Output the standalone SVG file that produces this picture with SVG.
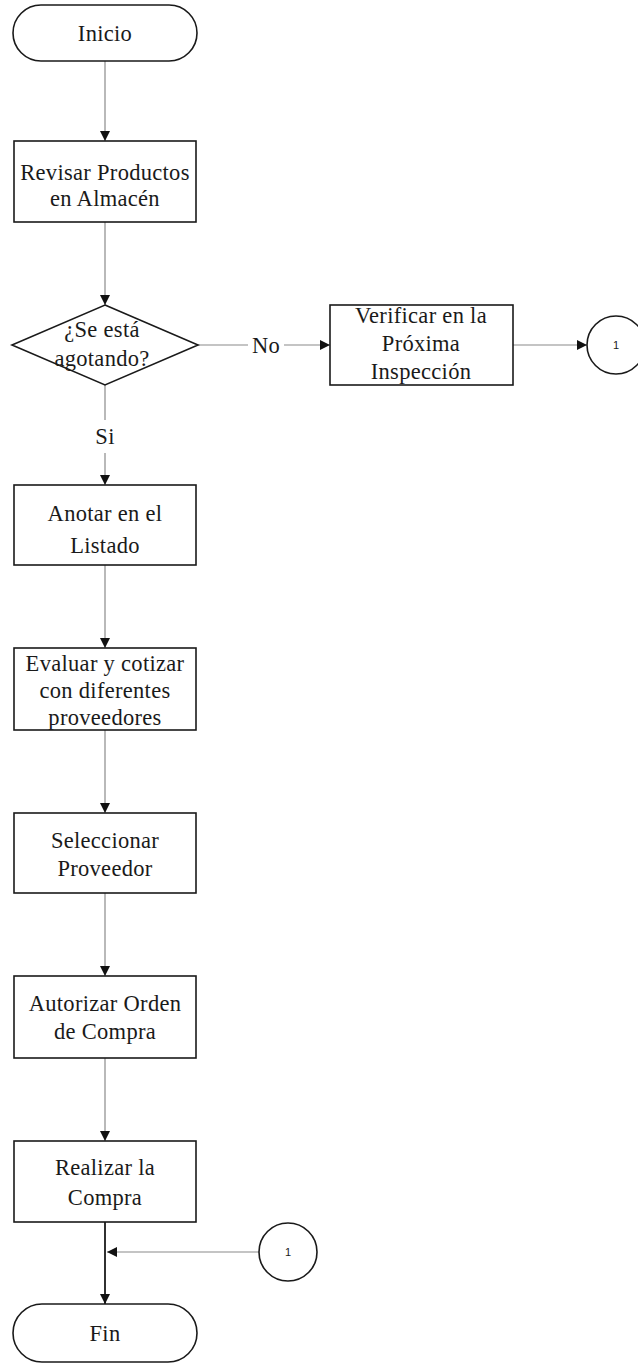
<svg xmlns="http://www.w3.org/2000/svg" width="638" height="1370" viewBox="0 0 638 1370">
  <style>
    .shape { fill: #ffffff; stroke: #1a1a1a; stroke-width: 1.6; }
    .lbl { font-family: "Liberation Serif", "Times New Roman", serif; font-size: 22.5px; letter-spacing: 0.3px; fill: #1a1a1a; text-anchor: middle; }
    .small { font-family: "Liberation Sans", Arial, sans-serif; font-size: 11px; fill: #1a1a1a; text-anchor: middle; }
    .flow { fill: none; stroke: #8a8a8a; stroke-width: 1.2; }
    .flow-dark { fill: none; stroke: #1a1a1a; stroke-width: 1.8; }
  </style>
  <defs>
    <marker id="arrow" viewBox="0 0 10 10" refX="10" refY="5" markerWidth="10" markerHeight="10" markerUnits="userSpaceOnUse" orient="auto">
      <path d="M0,0 L10,5 L0,10 z" fill="#111"/>
    </marker>
  </defs>
  <rect width="638" height="1370" fill="#ffffff"/>

  <!-- connectors -->
  <g id="connectors">
    <line class="flow" x1="105" y1="61" x2="105" y2="141" marker-end="url(#arrow)"/>
    <line class="flow" x1="105" y1="222" x2="105" y2="305" marker-end="url(#arrow)"/>
    <line class="flow" x1="198" y1="345" x2="248" y2="345"/>
    <line class="flow" x1="284" y1="345" x2="330" y2="345" marker-end="url(#arrow)"/>
    <text class="lbl" x="266" y="353">No</text>
    <line class="flow" x1="513" y1="345" x2="587" y2="345" marker-end="url(#arrow)"/>
    <line class="flow" x1="105" y1="385" x2="105" y2="420"/>
    <text class="lbl" x="105" y="444">Si</text>
    <line class="flow" x1="105" y1="453" x2="105" y2="485" marker-end="url(#arrow)"/>
    <line class="flow" x1="105" y1="565" x2="105" y2="648" marker-end="url(#arrow)"/>
    <line class="flow" x1="105" y1="730" x2="105" y2="813" marker-end="url(#arrow)"/>
    <line class="flow" x1="105" y1="893" x2="105" y2="976" marker-end="url(#arrow)"/>
    <line class="flow" x1="105" y1="1058" x2="105" y2="1141" marker-end="url(#arrow)"/>
    <line class="flow-dark" x1="105" y1="1222" x2="105" y2="1304" marker-end="url(#arrow)"/>
    <line class="flow" x1="259" y1="1252" x2="107" y2="1252" marker-end="url(#arrow)"/>
  </g>

  <g id="inicio">
    <rect class="shape" x="13" y="5" width="184" height="56" rx="28" ry="28"/>
    <text class="lbl" x="105" y="41">Inicio</text>
  </g>

  <g id="revisar">
    <rect class="shape" x="14" y="141" width="182" height="81"/>
    <text class="lbl" x="105" y="180">Revisar Productos</text>
    <text class="lbl" x="105" y="206">en Almacén</text>
  </g>

  <g id="decision">
    <polygon class="shape" points="105,305 198,345 105,385 12,345"/>
    <text class="lbl" x="102" y="337">¿Se está</text>
    <text class="lbl" x="102" y="366">agotando?</text>
  </g>

  <g id="verificar">
    <rect class="shape" x="330" y="305" width="183" height="80"/>
    <text class="lbl" x="421" y="323">Verificar en la</text>
    <text class="lbl" x="421" y="351">Próxima</text>
    <text class="lbl" x="421" y="379">Inspección</text>
  </g>

  <g id="conector-salida">
    <circle class="shape" cx="616" cy="345" r="29"/>
    <text class="small" x="616" y="349">1</text>
  </g>

  <g id="anotar">
    <rect class="shape" x="14" y="485" width="182" height="80"/>
    <text class="lbl" x="105" y="521">Anotar en el</text>
    <text class="lbl" x="105" y="553">Listado</text>
  </g>

  <g id="evaluar">
    <rect class="shape" x="14" y="648" width="182" height="82"/>
    <text class="lbl" x="105" y="671">Evaluar y cotizar</text>
    <text class="lbl" x="105" y="698">con diferentes</text>
    <text class="lbl" x="105" y="725">proveedores</text>
  </g>

  <g id="seleccionar">
    <rect class="shape" x="14" y="813" width="182" height="80"/>
    <text class="lbl" x="105" y="848">Seleccionar</text>
    <text class="lbl" x="105" y="876">Proveedor</text>
  </g>

  <g id="autorizar">
    <rect class="shape" x="14" y="976" width="182" height="82"/>
    <text class="lbl" x="105" y="1011">Autorizar Orden</text>
    <text class="lbl" x="105" y="1039">de Compra</text>
  </g>

  <g id="realizar">
    <rect class="shape" x="14" y="1141" width="182" height="81"/>
    <text class="lbl" x="105" y="1175">Realizar la</text>
    <text class="lbl" x="105" y="1205">Compra</text>
  </g>

  <g id="conector-entrada">
    <circle class="shape" cx="288" cy="1252" r="29"/>
    <text class="small" x="288" y="1256">1</text>
  </g>

  <g id="fin">
    <rect class="shape" x="13" y="1304" width="184" height="58" rx="29" ry="29"/>
    <text class="lbl" x="105" y="1341">Fin</text>
  </g>
</svg>
